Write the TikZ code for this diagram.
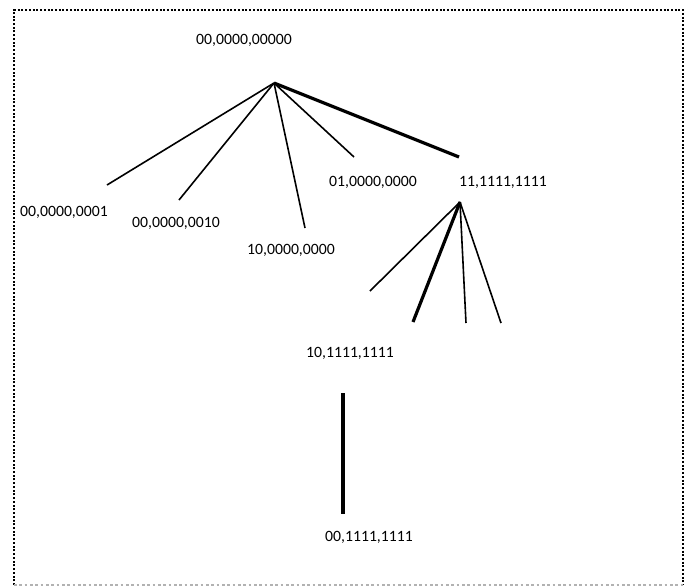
\documentclass[tikz,border=0pt]{standalone}
\usepackage{fontspec}
\setmainfont{Carlito}
\usetikzlibrary{positioning}

\begin{document}
\begin{tikzpicture}[
        x=0.75pt, y=-0.75pt,
        % This defines the style of the code labels
        code/.style={inner sep=0pt, font=\fontsize{11.8}{14}\selectfont},
        % This defines the style of the branches
        branch/.style={draw=black, line width=1.2pt},
        heavy/.style={draw=black, line width=2.4pt}
    ]
    \useasboundingbox (0,0) rectangle (690,587);

    % --- THE FRAME ---
    \draw [black, line width=1.5pt, dash pattern=on 1.5pt off 1.3pt] (14,585) -- (14,10) -- (683,10) -- (683,585);
    \draw [gray!60, line width=1pt, dash pattern=on 2pt off 2pt] (14,585) -- (683,585);

    % --- THE POINTS ---
    \coordinate (root) at (274,83);
    \coordinate (a) at (107,185);
    \coordinate (b) at (179,200);
    \coordinate (c) at (305,228);
    \coordinate (d) at (354,157);
    \coordinate (e) at (459,157);
    \coordinate (fork) at (460,202);
    \coordinate (f) at (370,291);
    \coordinate (g) at (413,322);
    \coordinate (h) at (466,323);
    \coordinate (k) at (501,323);
    \coordinate (top) at (343,393);
    \coordinate (bottom) at (343,514);

    % --- THE LABELS ---
    \node (rootlabel) [code] at (244,40) {00,0000,00000};
    \node (alabel) [code] at (64,212) {00,0000,0001};
    \node (blabel) [code] at (176,223) {00,0000,0010};
    \node (clabel) [code] at (291,250) {10,0000,0000};
    \node (dlabel) [code] at (373,182) {01,0000,0000};
    \node (elabel) [code] at (503,182) {11,1111,1111};
    \node (glabel) [code] at (350,353) {10,1111,1111};
    \node (bottomlabel) [code] at (369,537) {00,1111,1111};

    % --- THE BRANCHES ---
    \draw [branch] (root) -- (a);
    \draw [branch] (root) -- (b);
    \draw [branch] (root) -- (c);
    \draw [branch] (root) -- (d);
    \draw [heavy] (root) -- (e);
    \draw [branch] (fork) -- (f);
    \draw [heavy] (fork) -- (g);
    \draw [branch] (fork) -- (h);
    \draw [branch] (fork) -- (k);
    \draw [heavy] (top) -- (bottom);

\end{tikzpicture}
\end{document}
